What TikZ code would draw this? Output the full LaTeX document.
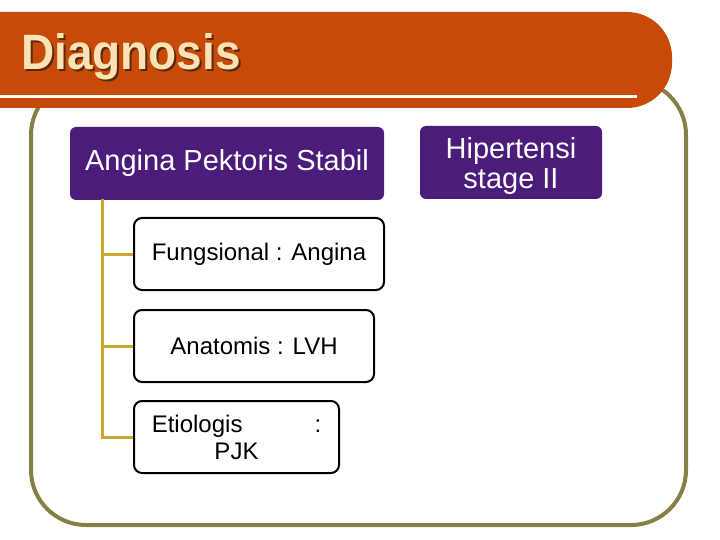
\documentclass[tikz,border=0pt]{standalone}
\usepackage{fontspec}
\setmainfont{Liberation Sans}
\usepackage{tikz}
\usetikzlibrary{positioning}
\definecolor{bannerC}{RGB}{200,74,8}
\definecolor{frameC}{RGB}{133,128,72}
\definecolor{purpleC}{RGB}{76,28,122}
\definecolor{goldC}{RGB}{200,168,50}
\definecolor{titleC}{RGB}{250,226,180}
\definecolor{shadowC}{RGB}{90,40,10}

\begin{document}
\begin{tikzpicture}[x=1pt, y=-1pt,
    purplebox/.style={rounded corners=6pt, fill=purpleC, text=white, inner sep=0,
      font=\fontsize{29}{33}\selectfont, align=center, minimum height=73pt},
    whitebox/.style={rounded corners=8pt, draw=black, line width=2pt, fill=white,
      inner sep=0, font=\fontsize{24}{27}\selectfont, align=center, minimum height=72pt},
    branch/.style={draw=goldC, line width=3pt}]
      \useasboundingbox (0,0) rectangle (720,540);
      % Frame
      \draw[frameC, line width=4pt, rounded corners=55pt] (31,80) rectangle (686,525);
      % Title banner
      \fill[bannerC, rounded corners=45pt] (-60,12) rectangle (672,108);
      \draw[white, line width=3pt] (0,97) -- (637,97);
      \node[text=titleC, font=\bfseries\fontsize{46}{50}\selectfont, yscale=1.08] (title) at (131,58)
        {\rlap{\hspace{2pt}\raisebox{-2pt}{\color{shadowC}Diagnosis}}Diagnosis};
      % Top boxes
      \node[purplebox, minimum width=314pt] (aps) at (227,163.5) {Angina Pektoris Stabil};
      \node[purplebox, minimum width=182pt, text depth=0pt] (hip) at (511,162.5) {\raisebox{-3pt}{Hipertensi}\\stage II};
      % Tree
      \coordinate (trunk) at (102,199);
      \draw[branch] (trunk) |- (133,254) coordinate (fungin);
      \draw[branch] (trunk) |- (133,346) coordinate (anatin);
      \draw[branch] (trunk) |- (133,437) coordinate (etioin);
      \node[whitebox, minimum width=250pt, anchor=west] (fung) at (fungin) {Fungsional : Angina};
      \node[whitebox, minimum width=240pt, anchor=west] (anat) at (anatin) {Anatomis : LVH};
      \node[whitebox, minimum width=205pt, anchor=west] (etio) at (etioin) {Etiologis\hspace{72pt}:\\PJK};
\end{tikzpicture}
\end{document}
